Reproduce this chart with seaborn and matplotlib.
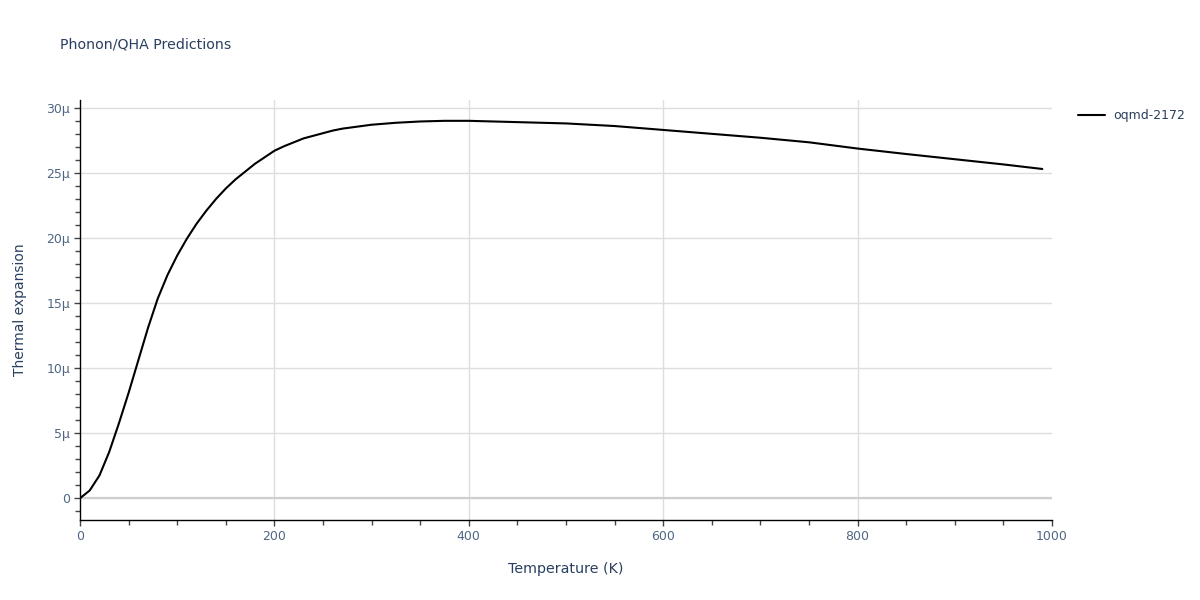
import numpy as np
import pandas as pd
import matplotlib
matplotlib.use("Agg")
import matplotlib.pyplot as plt
import seaborn as sns
from matplotlib.ticker import MultipleLocator, FuncFormatter

# --- data (thermal expansion in units of 1e-6 / K) ---
temperature = [0, 10, 20, 30, 40, 50, 60, 70, 80, 90, 100, 110, 120, 130, 140,
               150, 160, 170, 180, 190, 200, 210, 220, 230, 240, 250, 260, 270,
               280, 290, 300, 325, 350, 375, 400, 450, 500, 550, 600, 650, 700,
               750, 800, 850, 900, 950, 990]
alpha_micro = [0.0, 0.6, 1.75, 3.55, 5.75, 8.1, 10.6, 13.1, 15.35, 17.15, 18.65,
               19.95, 21.1, 22.1, 23.0, 23.8, 24.5, 25.1, 25.7, 26.2, 26.7,
               27.05, 27.35, 27.65, 27.85, 28.05, 28.25, 28.4, 28.5, 28.6, 28.7,
               28.85, 28.95, 29.0, 29.0, 28.9, 28.8, 28.6, 28.3, 28.0, 27.7,
               27.35, 26.87, 26.45, 26.05, 25.65, 25.3]
series_name = "oqmd-2172"
x_grid = [200, 400, 600, 800]

df = pd.DataFrame({"T": temperature, "alpha": np.array(alpha_micro) * 1e-6})
df["source"] = series_name

sns.set_style("white")
plt.rcParams["font.family"] = ["DejaVu Sans"]

text_col = "#2a3f5f"
tick_col = "#506784"
grid_col = "#dedede"

fig = plt.figure(figsize=(12, 6), dpi=100)
ax = fig.add_axes([80 / 1200, 80 / 600, 972 / 1200, 420 / 600])

ax.axhline(0, color="#cfcfcf", lw=1.6, zorder=1)
for gx in x_grid:
    ax.axvline(gx, color=grid_col, lw=1, zorder=0)
sns.lineplot(data=df, x="T", y="alpha", hue="source", palette=["black"],
             lw=1.5, ax=ax, zorder=3)

ax.set_xlim(0, 1000)
ax.set_ylim(-1.67e-6, 30.6e-6)

ax.xaxis.set_major_locator(MultipleLocator(200))
ax.xaxis.set_minor_locator(MultipleLocator(50))
ax.yaxis.set_major_locator(MultipleLocator(5e-6))
ax.yaxis.set_minor_locator(MultipleLocator(1e-6))


def micro(v, pos):
    n = round(v * 1e6)
    return "0" if n == 0 else f"{n}\u03bc"


ax.yaxis.set_major_formatter(FuncFormatter(micro))
ax.grid(True, axis="y", which="major", color=grid_col, lw=1, zorder=0)

for side in ["top", "right"]:
    ax.spines[side].set_visible(False)
for side in ["left", "bottom"]:
    ax.spines[side].set_color("black")
    ax.spines[side].set_linewidth(1)

ax.tick_params(which="both", direction="out", length=4, width=1, color="#444444",
               left=True, bottom=True)
ax.tick_params(which="minor", length=3.5)
ax.tick_params(which="major", labelsize=9, labelcolor=tick_col, pad=3)

ax.set_xlabel("Temperature (K)", fontsize=10.3, color=text_col, labelpad=14)
ax.set_ylabel("Thermal expansion", fontsize=10, color=text_col, labelpad=14)

fig.text(60 / 1200, 1 - 45 / 600, "Phonon/QHA Predictions", fontsize=10.2,
         color=text_col, va="center", ha="left")

ax.legend(loc="upper left", bbox_to_anchor=(1.015, 1.005), frameon=False,
          fontsize=9, labelcolor=text_col, handlelength=2.2, handletextpad=0.6)

fig.savefig("out.png", dpi=100)
